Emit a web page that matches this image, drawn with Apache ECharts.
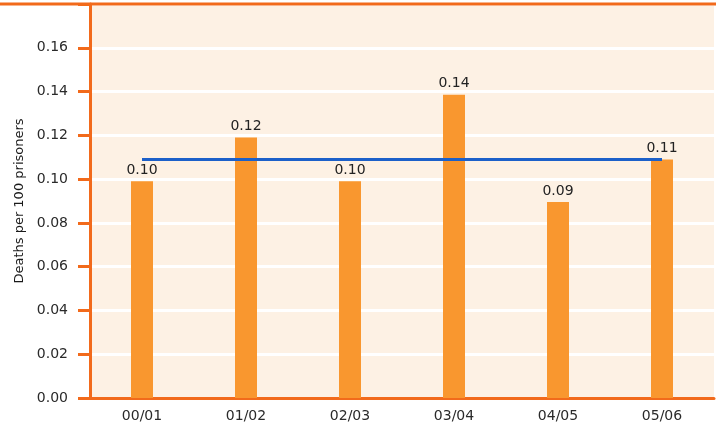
<!DOCTYPE html>
<html><head><meta charset="utf-8">
<script src="https://cdn.jsdelivr.net/npm/echarts@6/dist/echarts.min.js"></script>
<style>html,body{margin:0;padding:0;background:#fff}#c{width:721px;height:431px}</style>
</head><body><div id="c"></div>
<script>
const categories = ['00/01','01/02','02/03','03/04','04/05','05/06'];
const deathRates = [0.099, 0.119, 0.099, 0.1385, 0.0895, 0.109];
const rateLabels = ['0.10','0.12','0.10','0.14','0.09','0.11'];
const averageLine = [0.109, 0.109, 0.109, 0.109, 0.109, 0.109];
const yAxisTitle = 'Deaths per 100 prisoners';

const chart = echarts.init(document.getElementById('c'), null, {renderer:'canvas'});
const orangeAxis = '#F26A1B';
chart.setOption({
  animation:false,
  textStyle:{fontFamily:'DejaVu Sans, Verdana, sans-serif'},
  grid:{left:90,right:7,top:4,bottom:33,show:true,backgroundColor:'#FDF1E4',borderWidth:0},
  graphic:[{type:'line',shape:{x1:0,y1:4,x2:716,y2:4},style:{stroke:orangeAxis,lineWidth:3},z:10}],
  xAxis:{type:'category',data:categories,
    axisLine:{lineStyle:{color:orangeAxis,width:3}},
    axisTick:{show:false},
    axisLabel:{color:'#2a2a2a',fontSize:14,margin:11}},
  yAxis:{type:'value',min:0,max:0.18,interval:0.02,
    name:yAxisTitle,nameLocation:'middle',nameGap:64,
    nameTextStyle:{color:'#1a1a1a',fontSize:13},
    axisLine:{show:true,lineStyle:{color:orangeAxis,width:3}},
    axisTick:{show:true,length:12,lineStyle:{color:orangeAxis,width:3}},
    axisLabel:{color:'#2a2a2a',fontSize:14,margin:22,
      formatter:v=> (Math.abs(v-0.18)<1e-9)?'':v.toFixed(2)},
    splitLine:{show:true,lineStyle:{color:'#ffffff',width:3}}},
  series:[
    {type:'bar',data:deathRates,barWidth:22,itemStyle:{color:'#F9972F'},
      label:{show:true,position:'top',distance:4,color:'#222',fontSize:14,
        formatter:p=>rateLabels[p.dataIndex]},z:2},
    {type:'line',data:averageLine,symbol:'none',lineStyle:{color:'#1C60C9',width:3},z:5}
  ]
});
</script></body></html>
